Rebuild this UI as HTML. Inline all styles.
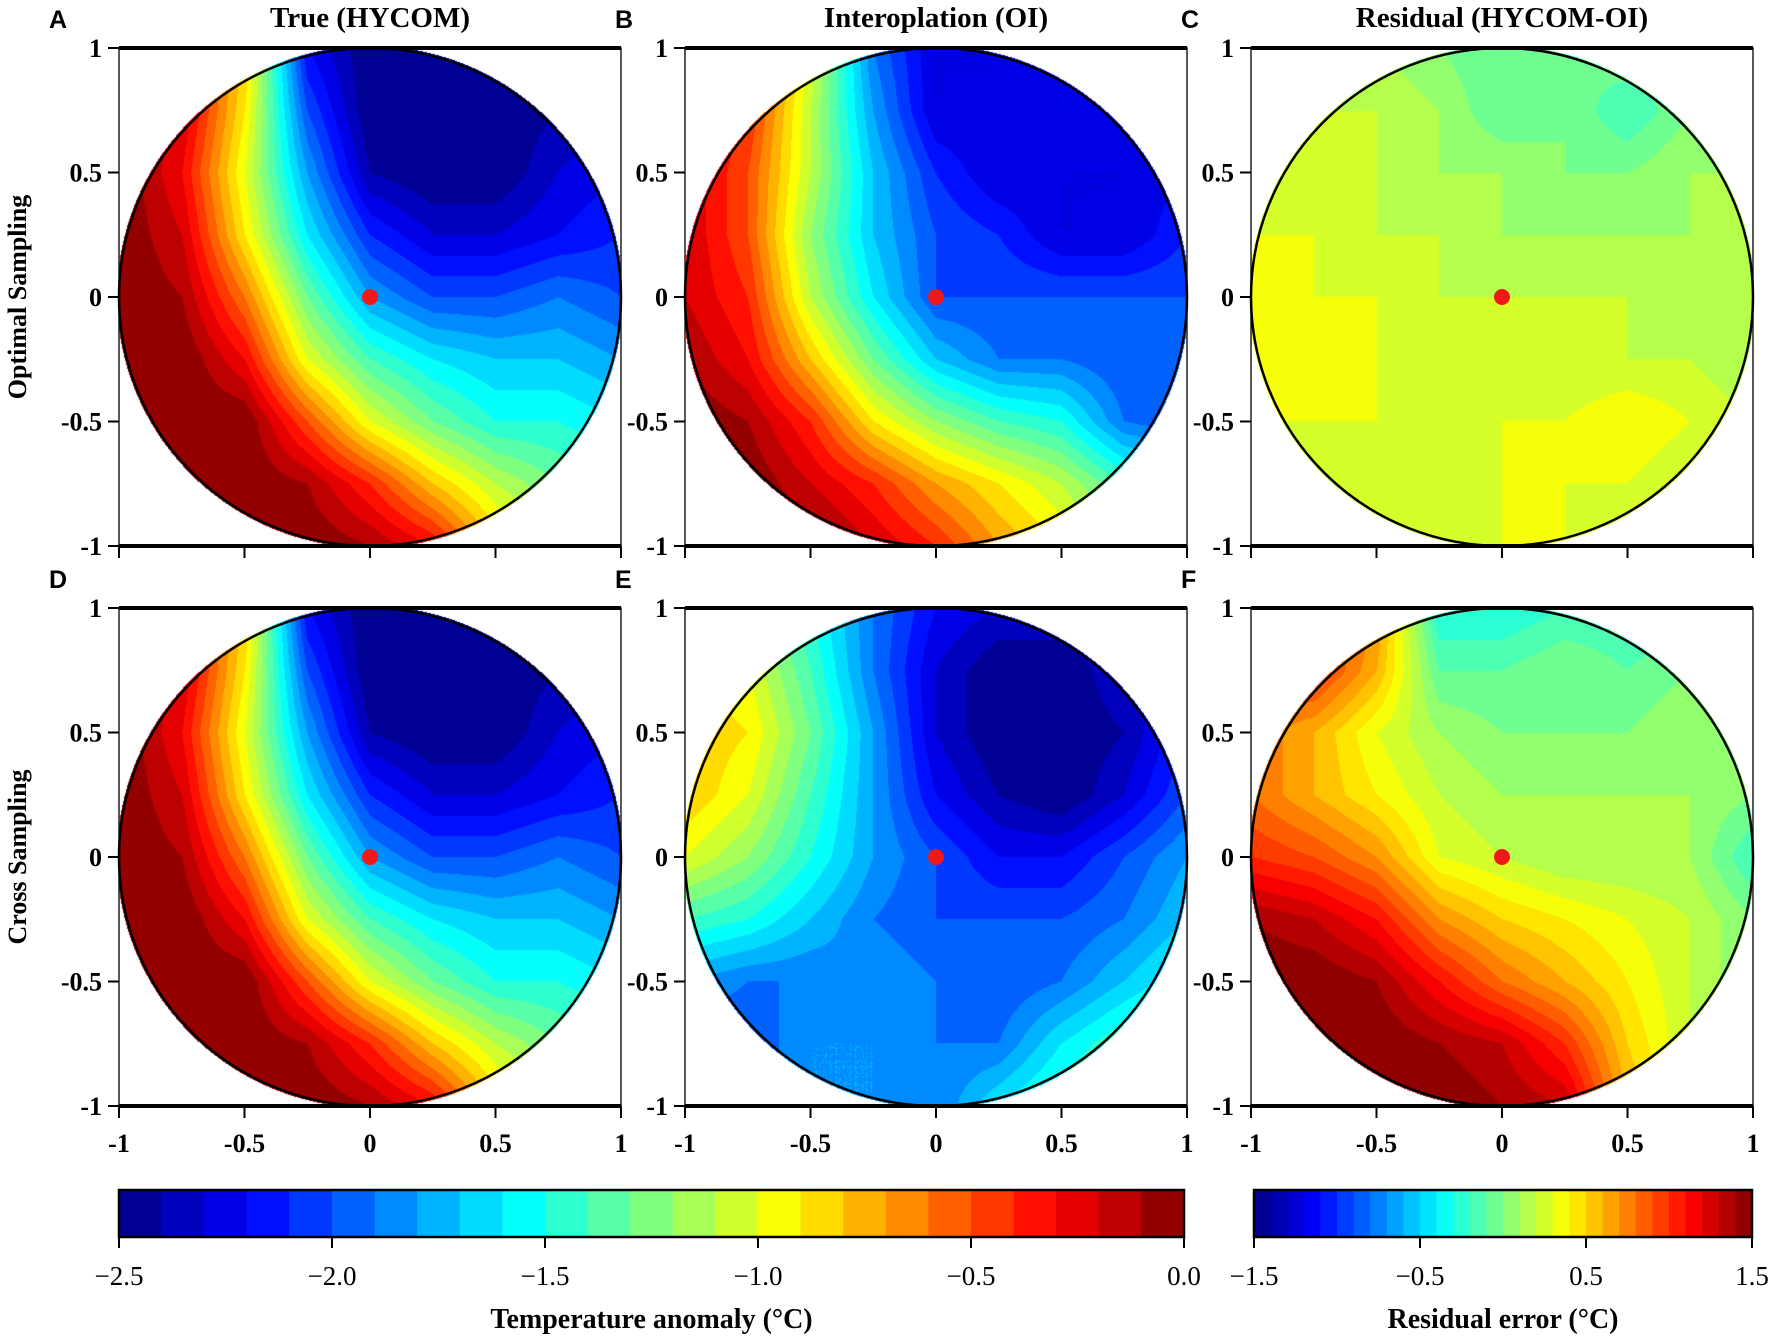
<!DOCTYPE html>
<html><head><meta charset="utf-8">
<style>
body{margin:0;background:#fff;width:1772px;height:1337px;position:relative;overflow:hidden;font-family:"Liberation Serif",serif}
canvas{position:absolute}
svg{position:absolute;left:0;top:0}
</style></head>
<body>
<canvas id="cA"></canvas>
<canvas id="cB"></canvas>
<canvas id="cC"></canvas>
<canvas id="cD"></canvas>
<canvas id="cE"></canvas>
<canvas id="cF"></canvas>
<svg id="ov" width="1772" height="1337"></svg>
<script>
// grid x = -1..1 step 0.25 ; rows y = 1 .. -1
const gridX=[-1,-0.75,-0.5,-0.25,0,0.25,0.5,0.75,1];
const gridY=[1,0.75,0.5,0.25,0,-0.25,-0.5,-0.75,-1];
const fieldA=[
[0,-0.3,-0.8,-2.2,-2.5,-2.5,-2.5,-2.5,-2.5],
[-0.1,-0.2,-0.9,-2.0,-2.5,-2.5,-2.5,-2.4,-2.3],
[0,-0.3,-1.0,-1.8,-2.4,-2.5,-2.5,-2.3,-2.2],
[0,-0.2,-0.9,-1.6,-2.1,-2.3,-2.3,-2.2,-2.1],
[0,-0.1,-0.6,-1.3,-1.8,-2.0,-2.0,-1.9,-2.0],
[0,0,-0.3,-1.0,-1.4,-1.6,-1.7,-1.7,-1.8],
[0,0,0,-0.5,-1.0,-1.3,-1.5,-1.5,-1.6],
[0,0,0,-0.1,-0.4,-0.8,-1.1,-1.3,-1.4],
[0,0,0,0,-0.1,-0.3,-0.8,-1.1,-1.2]];
const fieldB=[
[0,-0.3,-1.0,-1.9,-2.3,-2.3,-2.2,-2.2,-2.2],
[-0.2,-0.4,-1.1,-1.8,-2.3,-2.3,-2.2,-2.2,-2.2],
[-0.2,-0.5,-1.1,-1.7,-2.1,-2.3,-2.3,-2.3,-2.2],
[-0.2,-0.5,-1.2,-1.7,-2.0,-2.1,-2.3,-2.3,-2.1],
[-0.2,-0.4,-1.1,-1.6,-2.0,-2.0,-2.0,-2.0,-2.0],
[-0.1,-0.3,-0.8,-1.3,-1.7,-1.9,-1.9,-2.0,-2.0],
[0,-0.1,-0.4,-0.9,-1.2,-1.4,-1.5,-1.9,-2.0],
[0,0,-0.2,-0.4,-0.7,-0.9,-1.1,-1.4,-1.5],
[0,0,0,-0.2,-0.4,-0.7,-0.9,-1.2,-1.4]];
const fieldC=[
[0.2,0.2,0.1,0.0,-0.1,-0.1,0.0,0.0,0.0],
[0.2,0.2,0.2,0.1,-0.1,0.0,-0.2,0.0,0.0],
[0.2,0.2,0.2,0.1,0.1,0.0,0.0,0.1,0.1],
[0.3,0.3,0.2,0.2,0.1,0.1,0.1,0.1,0.1],
[0.4,0.3,0.3,0.2,0.2,0.2,0.2,0.1,0.1],
[0.3,0.4,0.3,0.3,0.3,0.2,0.2,0.2,0.1],
[0.3,0.3,0.3,0.2,0.3,0.3,0.4,0.3,0.2],
[0.2,0.2,0.2,0.2,0.3,0.3,0.3,0.2,0.2],
[0.2,0.2,0.2,0.2,0.3,0.3,0.2,0.2,0.2]];
const fieldD=fieldA;
const fieldE=[
[-1.2,-1.2,-1.5,-1.9,-2.2,-2.3,-2.3,-2.2,-2.1],
[-0.9,-1.0,-1.4,-1.9,-2.3,-2.5,-2.5,-2.3,-2.1],
[-0.8,-0.9,-1.3,-1.8,-2.3,-2.5,-2.5,-2.4,-2.1],
[-0.8,-1.0,-1.4,-1.8,-2.2,-2.4,-2.5,-2.3,-2.0],
[-1.0,-1.2,-1.5,-1.8,-2.0,-2.2,-2.2,-2.0,-1.8],
[-1.4,-1.5,-1.7,-1.9,-2.0,-2.0,-2.0,-1.9,-1.7],
[-1.8,-1.9,-1.9,-1.8,-1.9,-2.0,-1.9,-1.7,-1.5],
[-2.0,-2.0,-1.8,-1.8,-1.9,-1.9,-1.6,-1.4,-1.3],
[-2.0,-2.0,-1.8,-1.8,-1.9,-1.6,-1.4,-1.3,-1.3]];
const fieldF=[
[1.2,1.0,0.7,-0.3,-0.3,-0.2,-0.2,-0.2,-0.2],
[0.8,1.0,0.6,-0.1,-0.1,0.0,-0.1,0.0,0.0],
[0.8,0.6,0.3,0.1,0.0,0.0,0.0,0.1,0.0],
[0.8,0.6,0.4,0.2,0.1,0.1,0.1,0.1,0.0],
[1.0,0.9,0.7,0.3,0.2,0.1,0.1,0.1,-0.2],
[1.4,1.3,1.1,0.7,0.5,0.4,0.3,0.2,0.0],
[1.5,1.5,1.4,1.1,0.8,0.6,0.4,0.2,0.0],
[1.5,1.5,1.5,1.4,1.3,1.0,0.5,0.2,0.1],
[1.5,1.5,1.5,1.5,1.4,1.3,0.6,0.3,0.2]];
const axisTicks=[-1,-0.5,0,0.5,1];
const axisTickLabels=["-1","-0.5","0","0.5","1"];
const tempTicks=[-2.5,-2.0,-1.5,-1.0,-0.5,0.0];
const tempTickLabels=["\u22122.5","\u22122.0","\u22121.5","\u22121.0","\u22120.5","0.0"];
const resTicks=[-1.5,-0.5,0.5,1.5];
const resTickLabels=["\u22121.5","\u22120.5","0.5","1.5"];
const colTitles=["True (HYCOM)","Interoplation (OI)","Residual (HYCOM-OI)"];
const rowTitles=["Optimal Sampling","Cross Sampling"];

const colX=[119,685,1251], rowY=[48,608], PW=502, PH=498;
function jet(t){const c=v=>Math.max(0,Math.min(1,v));return [c(1.5-Math.abs(4*t-3)),c(1.5-Math.abs(4*t-2)),c(1.5-Math.abs(4*t-1))].map(v=>Math.round(v*255));}
function binColor(v,min,max,n){let i=Math.floor((v-min)/(max-min)*n);i=Math.max(0,Math.min(n-1,i));return jet((i+0.5)/n);}
function sample(f,x,y){
  const fx=(x+1)/0.25, fy=(1-y)/0.25;
  let i=Math.min(7,Math.max(0,Math.floor(fx))), j=Math.min(7,Math.max(0,Math.floor(fy)));
  const tx=Math.max(0,Math.min(1,fx-i)), ty=Math.max(0,Math.min(1,fy-j));
  return f[j][i]*(1-tx)*(1-ty)+f[j][i+1]*tx*(1-ty)+f[j+1][i]*(1-tx)*ty+f[j+1][i+1]*tx*ty;
}
const panels=[["cA",fieldA,0,0,-2.5,0,25],["cB",fieldB,1,0,-2.5,0,25],["cC",fieldC,2,0,-1.5,1.5,30],
["cD",fieldD,0,1,-2.5,0,25],["cE",fieldE,1,1,-2.5,0,25],["cF",fieldF,2,1,-1.5,1.5,30]];
panels.forEach(p=>{
  const cv=document.getElementById(p[0]);cv.width=PW;cv.height=PH;
  cv.style.left=colX[p[2]]+"px";cv.style.top=rowY[p[3]]+"px";
  const ctx=cv.getContext("2d");const im=ctx.createImageData(PW,PH);
  for(let py=0;py<PH;py++)for(let px=0;px<PW;px++){
    const x=px/(PW-1)*2-1,y=1-py/(PH-1)*2;
    if(x*x+y*y>1.02)continue;
    const c=binColor(sample(p[1],x,y),p[4],p[5],p[6]);
    const k=(py*PW+px)*4;im.data[k]=c[0];im.data[k+1]=c[1];im.data[k+2]=c[2];im.data[k+3]=255;
  }
  ctx.putImageData(im,0,0);
});
const NS="http://www.w3.org/2000/svg",ov=document.getElementById("ov");
function el(t,a,txt){const e=document.createElementNS(NS,t);for(const k in a)e.setAttribute(k,a[k]);if(txt!=null)e.textContent=txt;ov.appendChild(e);return e;}
const letters=["A","B","C","D","E","F"];
for(let r=0;r<2;r++)for(let c=0;c<3;c++){
  const x0=colX[c],y0=rowY[r],sx=v=>x0+(v+1)/2*PW,sy=v=>y0+(1-v)/2*PH;
  const fr=el("rect",{x:x0,y:y0,width:PW,height:PH,fill:"none",stroke:"#222","stroke-width":1.5});
  
  const t1=el("line",{x1:x0,x2:x0+PW,y1:y0,y2:y0,stroke:"#000","stroke-width":4});
  const t2=el("line",{x1:x0,x2:x0+PW,y1:y0+PH,y2:y0+PH,stroke:"#000","stroke-width":4});
  const ci=el("ellipse",{cx:sx(0),cy:sy(0),rx:PW/2,ry:PH/2,fill:"none",stroke:"#000","stroke-width":2.5});
  
  const dot=el("ellipse",{cx:sx(0),cy:sy(0),rx:8,ry:8,fill:"#f01818"});
  
  axisTicks.forEach((v,i)=>{
    const ty=el("line",{x1:x0-11,x2:x0,y1:sy(v),y2:sy(v),stroke:"#000","stroke-width":2});
    
    const ly=el("text",{x:x0-17,y:sy(v)+9,"text-anchor":"end","font-size":26,"font-weight":"bold"},axisTickLabels[i]);
    
    const tx=el("line",{x1:sx(v),x2:sx(v),y1:y0+PH,y2:y0+PH+12,stroke:"#000","stroke-width":2});
    
    if(r==1){const lx=el("text",{x:sx(v),y:y0+PH+46,"text-anchor":"middle","font-size":26,"font-weight":"bold"},axisTickLabels[i]);
      }
  });
  const L=el("text",{x:x0-70,y:y0-20,"font-size":25,"font-weight":"bold","font-family":"Liberation Sans, sans-serif"},letters[r*3+c]);
  
}
colTitles.forEach((t,c)=>{const e=el("text",{x:colX[c]+PW/2,y:27,"text-anchor":"middle","font-size":29,"font-weight":"bold"},t);
  });
rowTitles.forEach((t,r)=>{const cy=rowY[r]+PH/2;const e=el("text",{x:26,y:cy,"text-anchor":"middle","font-size":26,"font-weight":"bold",transform:`rotate(-90 26 ${cy})`},t);
  });
function colorbar(x0,x1,min,max,n,ticks,labels,title,name){
  const y0=1190,h=47,w=(x1-x0)/n;
  for(let i=0;i<n;i++){const c=jet((i+0.5)/n);
    const r=el("rect",{x:x0+i*w,y:y0,width:w+0.6,height:h,fill:`rgb(${c})`});
    }
  const b=el("rect",{x:x0,y:y0,width:x1-x0,height:h,fill:"none",stroke:"#000","stroke-width":2.5});
  
  ticks.forEach((v,i)=>{const x=x0+(v-min)/(max-min)*(x1-x0);
    const t=el("line",{x1:x,x2:x,y1:y0+h,y2:y0+h+11,stroke:"#000","stroke-width":2});
    
    const l=el("text",{x:x,y:1285,"text-anchor":"middle","font-size":27},labels[i]);
    });
  const tt=el("text",{x:(x0+x1)/2,y:1328,"text-anchor":"middle","font-size":28,"font-weight":"bold"},title);
  
}
colorbar(119,1184,-2.5,0,25,tempTicks,tempTickLabels,"Temperature anomaly (°C)","temperature-colorbar");
colorbar(1254,1752,-1.5,1.5,30,resTicks,resTickLabels,"Residual error (°C)","residual-colorbar");
</script>
</body></html>
